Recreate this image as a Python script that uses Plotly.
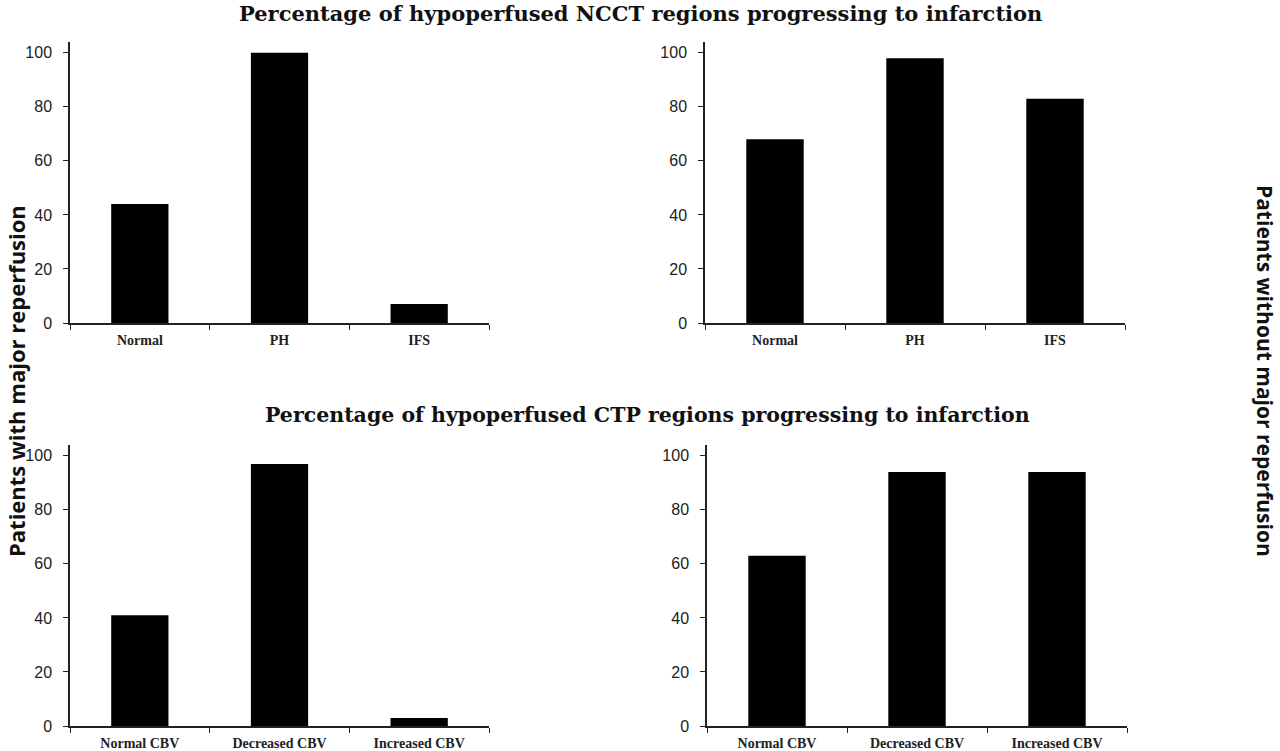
import plotly.graph_objects as go

ncct_cats = ["Normal", "PH", "IFS"]
ctp_cats = ["Normal CBV", "Decreased CBV", "Increased CBV"]
ncct_with = [44, 100, 7]
ncct_without = [68, 98, 83]
ctp_with = [41, 97, 3]
ctp_without = [63, 94, 94]
y_ticks = [0, 20, 40, 60, 80, 100]

title_top = "Percentage of hypoperfused NCCT regions progressing to infarction"
title_bottom = "Percentage of hypoperfused CTP regions progressing to infarction"
ylab_left = "Patients with major reperfusion"
ylab_right = "Patients without major reperfusion"

W, H = 1280, 760
REF_H = 751

def px_x(a, b):
    return [a / W, b / W]

def px_y(top, bottom):
    return [1 - bottom / REF_H, 1 - top / REF_H]

def py(v):
    return 1 - v / REF_H

fig = go.Figure()

panels = [
    (ncct_cats, ncct_with, "x", "y", px_x(70, 489), px_y(42, 323)),
    (ncct_cats, ncct_without, "x2", "y2", px_x(705, 1125), px_y(42, 323)),
    (ctp_cats, ctp_with, "x3", "y3", px_x(70, 489), px_y(445, 726)),
    (ctp_cats, ctp_without, "x4", "y4", px_x(707, 1127), px_y(445, 726)),
]

tick_font = dict(family="Liberation Sans, Arial, sans-serif", size=16, color="#222")
xtick_font = dict(family="Liberation Serif, Times New Roman, serif", size=14, color="#222", weight="bold")
for i, (cats, vals, xa, ya, xd, yd) in enumerate(panels):
    fig.add_trace(go.Bar(x=cats, y=vals, xaxis=xa, yaxis=ya, width=0.41,
                         marker=dict(color="black", line=dict(width=0)),
                         showlegend=False))
    sfx = "" if i == 0 else str(i + 1)
    fig.layout["xaxis" + sfx] = dict(
        domain=xd, anchor=ya, type="category", range=[-0.5, 2.5],
        showline=True, linecolor="#222", linewidth=1.5,
        ticks="outside", tickson="boundaries", ticklen=5, tickcolor="#222",
        showgrid=False, zeroline=False, ticklabelstandoff=3,
        tickfont=xtick_font,
    )
    fig.layout["yaxis" + sfx] = dict(
        domain=yd, anchor=xa, range=[0, 104],
        tickvals=y_ticks, showline=True, linecolor="#222", linewidth=1.5,
        ticks="outside", ticklen=5, tickcolor="#222", ticklabelstandoff=8,
        showgrid=False, zeroline=False, tickfont=tick_font,
    )

fig.add_annotation(text="<b>" + title_top + "</b>", x=640 / W, y=py(14), xref="paper", yref="paper",
                   showarrow=False, font=dict(family="DejaVu Serif, serif", size=21, color="#111"),
                   xanchor="center", yanchor="middle")
fig.add_annotation(text="<b>" + title_bottom + "</b>", x=647 / W, y=py(415), xref="paper", yref="paper",
                   showarrow=False, font=dict(family="DejaVu Serif, serif", size=20.5, color="#111"),
                   xanchor="center", yanchor="middle")
fig.add_annotation(text="<b>" + ylab_left + "</b>", x=16 / W, y=py(381), xref="paper", yref="paper",
                   showarrow=False, font=dict(family="Open Sans, Noto Sans, sans-serif", size=22, color="#111"),
                   textangle=-90, xanchor="center", yanchor="middle")
fig.add_annotation(text="<b>" + ylab_right + "</b>", x=1265 / W, y=py(371), xref="paper", yref="paper",
                   showarrow=False, font=dict(family="Open Sans, Noto Sans, sans-serif", size=21, color="#111"),
                   textangle=90, xanchor="center", yanchor="middle")

fig.update_layout(width=W, height=H, margin=dict(l=0, r=0, t=0, b=0),
                  paper_bgcolor="white", plot_bgcolor="white", bargap=0.59)

fig.write_html("out.html", config={"displayModeBar": False},
               post_script="document.body.style.margin='0';document.body.style.overflow='hidden';")
